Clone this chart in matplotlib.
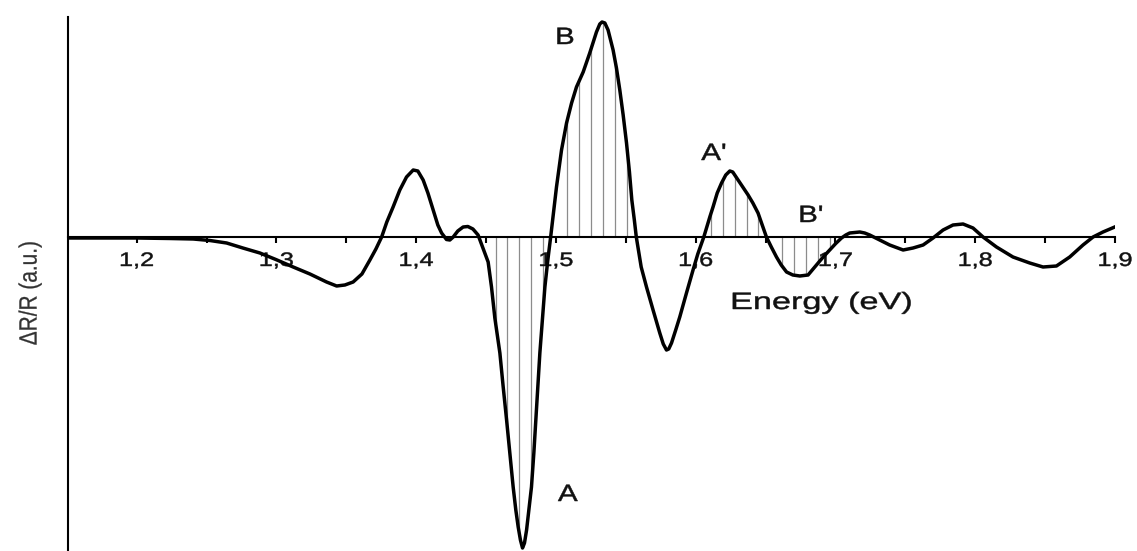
import numpy as np
import matplotlib
matplotlib.use("Agg")
import matplotlib.pyplot as plt
from matplotlib.patheffects import AbstractPathEffect
from matplotlib.transforms import Affine2D

# Photoreflectance spectrum: photon energy (eV) and dR/R (arbitrary units)
energy = [1.151, 1.174, 1.200, 1.224, 1.2405, 1.2524, 1.2644, 1.2760, 1.2882, 1.2996,
          1.3120, 1.3240, 1.3359, 1.3431, 1.3490, 1.3549, 1.3612, 1.3669, 1.3712, 1.3753,
          1.3790, 1.3835, 1.3883, 1.3931, 1.3979, 1.4012, 1.4050, 1.4084, 1.4122, 1.4155,
          1.4182, 1.4217, 1.4241, 1.4265, 1.4298, 1.4336, 1.4370, 1.4406, 1.4443, 1.4491,
          1.4515, 1.4539, 1.4563, 1.4599, 1.4622, 1.4647, 1.4670, 1.4694, 1.4713, 1.4730,
          1.4746, 1.4761, 1.4775, 1.4790, 1.4806, 1.4825, 1.4842, 1.4856, 1.4870, 1.4885,
          1.4903, 1.4921, 1.4942, 1.4964, 1.5004, 1.5040, 1.5076, 1.5112, 1.5147, 1.5195,
          1.5242, 1.5290, 1.5314, 1.5330, 1.5350, 1.5373, 1.5409, 1.5433, 1.5457, 1.5481,
          1.5505, 1.5526, 1.5543, 1.5561, 1.5575, 1.5610, 1.5648, 1.5695, 1.5743, 1.5768,
          1.5791, 1.5807, 1.5827, 1.5857, 1.5886, 1.5934, 1.5981, 1.6015, 1.6058, 1.6101,
          1.6124, 1.6154, 1.6185, 1.6215, 1.6244, 1.6265, 1.6303, 1.6337, 1.6375, 1.6409,
          1.6446, 1.6476, 1.6506, 1.6541, 1.6578, 1.6612, 1.6650, 1.6695, 1.6745, 1.6804,
          1.6834, 1.6864, 1.6909, 1.6959, 1.7002, 1.7043, 1.7074, 1.7102, 1.7138, 1.7174,
          1.7209, 1.7245, 1.7317, 1.7388, 1.7484, 1.7555, 1.7627, 1.7698, 1.7770, 1.7841,
          1.7913, 1.7984, 1.8056, 1.8152, 1.8270, 1.8390, 1.8485, 1.8581, 1.8676, 1.8771,
          1.8843, 1.8914, 1.8998]
dRR = [-0.010, -0.010, -0.010, -0.015, -0.020, -0.035, -0.060, -0.110, -0.160, -0.225,
       -0.300, -0.370, -0.450, -0.490, -0.480, -0.450, -0.370, -0.230, -0.120, 0.000,
       0.150, 0.300, 0.470, 0.600, 0.670, 0.660, 0.570, 0.440, 0.270, 0.120,
       0.040, -0.025, -0.030, 0.000, 0.060, 0.100, 0.105, 0.080, 0.020, -0.160,
       -0.250, -0.500, -0.810, -1.160, -1.490, -1.830, -2.160, -2.500, -2.730, -2.900,
       -3.030, -3.110, -3.060, -2.930, -2.730, -2.500, -2.160, -1.830, -1.490, -1.160,
       -0.830, -0.500, -0.230, 0.020, 0.500, 0.870, 1.140, 1.340, 1.500, 1.650,
       1.840, 2.050, 2.130, 2.150, 2.140, 2.070, 1.870, 1.690, 1.470, 1.220,
       0.940, 0.650, 0.370, 0.170, 0.000, -0.300, -0.500, -0.730, -0.960, -1.070,
       -1.130, -1.120, -1.060, -0.930, -0.800, -0.560, -0.330, -0.170, 0.000, 0.200,
       0.300, 0.440, 0.540, 0.620, 0.660, 0.650, 0.570, 0.500, 0.420, 0.340,
       0.240, 0.120, 0.000, -0.100, -0.200, -0.280, -0.350, -0.380, -0.390, -0.380,
       -0.330, -0.280, -0.205, -0.130, -0.065, -0.010, 0.020, 0.040, 0.045, 0.050,
       0.040, 0.020, -0.030, -0.080, -0.130, -0.110, -0.080, -0.010, 0.070, 0.120,
       0.130, 0.090, 0.000, -0.100, -0.200, -0.260, -0.300, -0.290, -0.200, -0.080,
       0.000, 0.050, 0.100]

tick_values = [1.2, 1.3, 1.4, 1.5, 1.6, 1.7, 1.8, 1.9]
tick_labels = ["1,2", "1,3", "1,4", "1,5", "1,6", "1,7", "1,8", "1,9"]
minor_values = [1.25, 1.35, 1.45, 1.55, 1.65, 1.75, 1.85]

# Shaded transitions are drawn as vertical drop lines on a regular energy grid
hatch_start, hatch_step, hatch_count = 1.4568, 0.00855, 29
hatch_bands = [(1.450, 1.495), (1.505, 1.555), (1.610, 1.650), (1.655, 1.700)]

peak_names = ["B", "A", "A'", "B'"]
peak_label_x = [1.5064, 1.5085, 1.6130, 1.6824]
peak_label_y = [1.99, -2.58, 0.83, 0.21]


class WideText(AbstractPathEffect):
    """Draw glyph outlines stretched horizontally about their centre,
    with a thin outline of the fill colour to make them a bit heavier."""

    def __init__(self, sx, weight=0.35):
        super().__init__()
        self.sx = sx
        self.weight = weight

    def draw_path(self, renderer, gc, tpath, affine, rgbFace=None):
        ext = tpath.get_extents(affine)
        cx = 0.5 * (ext.x0 + ext.x1)
        t = affine + Affine2D().translate(-cx, 0).scale(self.sx, 1).translate(cx, 0)
        gc0 = renderer.new_gc()
        gc0.copy_properties(gc)
        if rgbFace is not None:
            gc0.set_foreground(rgbFace)
        gc0.set_linewidth(self.weight)
        renderer.draw_path(gc0, tpath, t, rgbFace)
        gc0.restore()


plt.rcParams["font.family"] = ["Liberation Sans", "DejaVu Sans"]

W, H = 1137, 551
fig = plt.figure(figsize=(W / 100, H / 100), dpi=100)
ax = fig.add_axes([68 / W, 0.0, (1115 - 68) / W, (H - 17) / H])

x = np.array(energy)
y = np.array(dRR)

# drop lines under the A, B, A', B' features
grid = hatch_start + hatch_step * np.arange(hatch_count)
hx = np.array([g for g in grid if any(lo <= g <= hi for lo, hi in hatch_bands)])
hy = np.interp(hx, x, y)
ax.vlines(hx, 0, hy, colors="#8c8c8c", linewidth=0.9, zorder=1)

ax.plot(x, y, color="black", linewidth=2.5, solid_joinstyle="round", zorder=3)

ax.set_xlim(1.1509, 1.8998)
ax.set_ylim(-3.14, 2.20)

for side in ("top", "right"):
    ax.spines[side].set_visible(False)
ax.spines["bottom"].set_position(("data", 0))
ax.spines["bottom"].set_linewidth(1.5)
ax.spines["left"].set_linewidth(1.5)
ax.set_yticks([])

ax.set_xticks(tick_values, tick_labels)
ax.set_xticks(minor_values, minor=True)
ax.tick_params(axis="x", which="major", direction="out", length=4.5, width=1.5,
               pad=7, labelsize=14, labelcolor="#111111")
ax.tick_params(axis="x", which="minor", direction="out", length=4.0, width=1.5)
for lab in ax.get_xticklabels():
    lab.set_path_effects([WideText(1.3)])

for name, px, py in zip(peak_names, peak_label_x, peak_label_y):
    ax.text(px, py, name, fontsize=17, ha="center", va="center", color="#111111",
            path_effects=[WideText(1.25)])

ax.text(1.6902, -0.66, "Energy (eV)", fontsize=17, ha="center", va="center",
        color="#111111", path_effects=[WideText(1.45)])

fig.text(30 / W, 1 - 293 / H, "\u0394R/R (a.u.)", rotation=90, fontsize=15,
         ha="center", va="center", color="#333333", path_effects=[WideText(1.2, 0.2)])

fig.savefig("out.png", dpi=100)
